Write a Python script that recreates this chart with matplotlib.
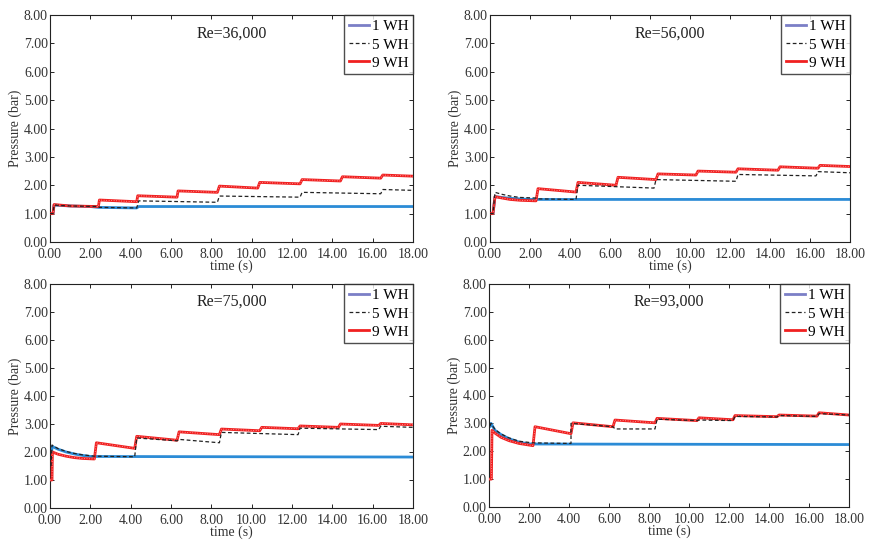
import matplotlib
matplotlib.use("Agg")
import matplotlib.pyplot as plt
from matplotlib.ticker import MultipleLocator, FormatStrFormatter

plt.rcParams['font.family'] = ['Liberation Serif', 'DejaVu Serif']

titles = ["Re=36,000", "Re=56,000", "Re=75,000", "Re=93,000"]
labels = ["1 WH", "5 WH", "9 WH"]

# Re=36,000
t36_1 = [0, 0.15, 0.2, 1.0, 2.0, 2.4, 4.3, 4.4, 18]
p36_1 = [1.0, 1.0, 1.3, 1.27, 1.25, 1.22, 1.2, 1.25, 1.25]
t36_5 = [0, 0.15, 0.2, 1.0, 2.4, 2.45, 4.3, 4.4, 8.3, 8.4, 12.4, 12.5, 16.4, 16.5, 18]
p36_5 = [1.0, 1.0, 1.3, 1.27, 1.25, 1.22, 1.2, 1.45, 1.40, 1.62, 1.58, 1.75, 1.70, 1.85, 1.82]
t36_9 = [0, 0.15, 0.2, 1.0, 2.4, 2.45, 4.3, 4.35, 6.3, 6.35, 8.3, 8.4, 10.3, 10.4,
         12.4, 12.5, 14.4, 14.5, 16.4, 16.5, 18]
p36_9 = [1.0, 1.0, 1.32, 1.27, 1.25, 1.48, 1.42, 1.63, 1.58, 1.80, 1.75, 1.97, 1.90, 2.10,
         2.05, 2.20, 2.15, 2.30, 2.25, 2.36, 2.32]

# Re=56,000
t56_1 = [0, 0.15, 0.25, 0.6, 1.0, 1.5, 2.0, 18]
p56_1 = [1.0, 1.0, 1.6, 1.57, 1.54, 1.52, 1.5, 1.5]
t56_5 = [0, 0.15, 0.25, 0.6, 1.0, 1.5, 2.3, 2.4, 4.3, 4.4, 8.2, 8.3, 12.3, 12.4, 16.3, 16.4, 18]
p56_5 = [1.0, 1.0, 1.75, 1.68, 1.62, 1.57, 1.55, 1.52, 1.50, 2.0, 1.90, 2.2, 2.14, 2.38, 2.33, 2.48, 2.44]
t56_9 = [0, 0.15, 0.25, 0.6, 1.0, 1.5, 2.3, 2.4, 4.3, 4.4, 6.3, 6.4, 8.3, 8.4, 10.3, 10.4,
         12.3, 12.4, 14.4, 14.5, 16.4, 16.5, 18]
p56_9 = [1.0, 1.0, 1.6, 1.55, 1.5, 1.47, 1.45, 1.88, 1.76, 2.10, 2.0, 2.28, 2.2, 2.4, 2.36, 2.5,
         2.46, 2.58, 2.53, 2.65, 2.6, 2.70, 2.66]

# Re=75,000
t75_1 = [0.05, 0.1, 0.4, 0.8, 1.2, 1.6, 2.0, 18]
p75_1 = [1.5, 2.2, 2.1, 2.0, 1.93, 1.88, 1.84, 1.82]
t75_5 = [0.05, 0.1, 0.4, 0.8, 1.2, 1.6, 2.2, 2.3, 4.2, 4.3, 6.3, 6.4, 8.4, 8.5, 12.3, 12.4, 16.3, 16.4, 18]
p75_5 = [1.5, 2.25, 2.12, 2.02, 1.95, 1.9, 1.85, 1.85, 1.83, 2.5, 2.4, 2.45, 2.33, 2.7, 2.62,
         2.85, 2.8, 2.92, 2.88]
t75_9 = [0, 0.1, 0.12, 0.4, 0.8, 1.2, 1.6, 2.2, 2.3, 4.2, 4.3, 6.3, 6.4, 8.4, 8.5, 10.4, 10.5,
         12.3, 12.4, 14.3, 14.4, 16.3, 16.4, 18]
p75_9 = [1.0, 1.0, 2.0, 1.92, 1.85, 1.8, 1.77, 1.75, 2.33, 2.13, 2.56, 2.42, 2.72, 2.62, 2.82,
         2.76, 2.88, 2.83, 2.93, 2.88, 3.0, 2.95, 3.02, 2.97]

# Re=93,000
t93_1 = [0.05, 0.1, 0.3, 0.6, 1.0, 1.5, 2.0, 18]
p93_1 = [2.9, 3.0, 2.75, 2.6, 2.45, 2.33, 2.26, 2.24]
t93_5 = [0.05, 0.1, 0.3, 0.6, 1.0, 1.5, 2.2, 2.3, 4.1, 4.1, 6.2, 6.3, 8.3, 8.4, 10.4, 10.5,
         12.2, 12.3, 14.4, 14.5, 16.4, 16.5, 18]
p93_5 = [2.9, 3.0, 2.78, 2.62, 2.48, 2.36, 2.3, 2.3, 2.28, 3.0, 2.88, 2.8, 2.8, 3.15, 3.1, 3.12,
         3.1, 3.25, 3.23, 3.28, 3.25, 3.35, 3.3]
t93_9 = [0, 0.12, 0.15, 0.3, 0.6, 1.0, 1.5, 2.2, 2.3, 4.1, 4.2, 6.2, 6.3, 8.3, 8.4, 10.4, 10.5,
         12.2, 12.3, 14.4, 14.5, 16.4, 16.5, 18]
p93_9 = [1.0, 1.0, 2.75, 2.65, 2.5, 2.38, 2.28, 2.2, 2.88, 2.63, 3.02, 2.88, 3.12, 3.02, 3.18,
         3.1, 3.2, 3.13, 3.28, 3.24, 3.3, 3.26, 3.38, 3.3]

panels = [
    (t36_1, p36_1, t36_5, p36_5, t36_9, p36_9),
    (t56_1, p56_1, t56_5, p56_5, t56_9, p56_9),
    (t75_1, p75_1, t75_5, p75_5, t75_9, p75_9),
    (t93_1, p93_1, t93_5, p93_5, t93_9, p93_9),
]

W, H = 869, 541
fig = plt.figure(figsize=(W / 100, H / 100), dpi=100)
boxes = [(50, 15, 363, 227), (490, 15, 360, 227), (50, 284, 363, 224), (489, 284, 360, 223)]

tc = '#333333'
for i, (box, data) in enumerate(zip(boxes, panels)):
    x0, y0, w, h = box
    ax = fig.add_axes([x0 / W, 1 - (y0 + h) / H, w / W, h / H])
    t1, p1, t5, p5, t9, p9 = data
    ax.plot(t1, p1, color='#2b8bd6', lw=2.0, label=labels[0], zorder=2)
    ax.plot(t9, p9, color='#f02020', lw=2.0, label=labels[2], zorder=3)
    ax.plot(t9, p9, color='#ffb0b0', lw=0.6, ls=(0, (1, 2)), zorder=4)
    ax.plot(t5, p5, color='#222222', lw=0.9, ls=(0, (3, 2)), label=labels[1], zorder=5)
    ax.set_xlim(0, 18)
    ax.set_ylim(0, 8)
    ax.xaxis.set_major_locator(MultipleLocator(2))
    ax.yaxis.set_major_locator(MultipleLocator(1))
    ax.xaxis.set_major_formatter(FormatStrFormatter('%.2f'))
    ax.yaxis.set_major_formatter(FormatStrFormatter('%.2f'))
    ax.tick_params(direction='in', top=True, right=True, length=3, width=0.6,
                   labelsize=10, labelcolor=tc)
    ax.tick_params(axis='x', pad=4)
    ax.tick_params(axis='y', pad=1.5)
    for s in ax.spines.values():
        s.set_linewidth(0.8)
        s.set_color('#222222')
    ax.set_xlabel('time (s)', fontsize=10, color=tc, labelpad=-1)
    ax.set_ylabel('Pressure (bar)', fontsize=10, color=tc, labelpad=1)
    ax.text(0.5, 0.92, titles[i], transform=ax.transAxes, ha='center', va='center',
            fontsize=11.5, color='#222222')
    handles, labs = ax.get_legend_handles_labels()
    order = [labs.index(l) for l in labels]
    leg = ax.legend([handles[k] for k in order], labels, loc='upper right',
                    borderaxespad=0, fancybox=False, edgecolor='#222222',
                    fontsize=11, handlelength=1.3, handletextpad=0.2,
                    labelspacing=0.3, borderpad=0.3)
    leg.get_frame().set_linewidth(1.0)
    leg.legend_handles[0].set_color('#7b7fc6')

fig.savefig('out.png', dpi=100)
